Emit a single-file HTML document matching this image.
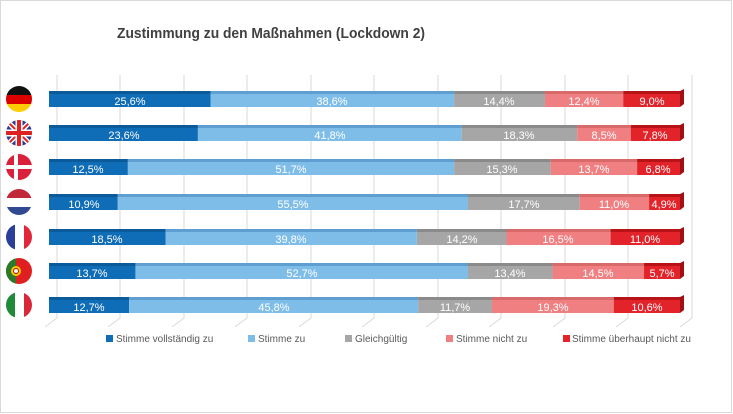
<!DOCTYPE html>
<html><head><meta charset="utf-8"><style>
body{margin:0;background:#fff}
svg{display:block;font-family:"Liberation Sans",sans-serif}
.l{fill:#fff;font-size:11px;text-anchor:middle}
.g{fill:#595959;font-size:10px}
</style></head><body>
<svg width="733" height="414" viewBox="0 0 733 414">
<rect x="0.5" y="0.5" width="731" height="412" fill="#fff" stroke="#d9d9d9"/>
<text x="117" y="38" font-size="15" font-weight="bold" fill="#404040" textLength="308" lengthAdjust="spacingAndGlyphs">Zustimmung zu den Maßnahmen (Lockdown 2)</text>
<g stroke="#d9d9d9" stroke-width="1" fill="none">
<path d="M57 75V318L45 327"/><path d="M120 75V318L108 327"/><path d="M184 75V318L172 327"/><path d="M247 75V318L235 327"/><path d="M311 75V318L299 327"/><path d="M374 75V318L362 327"/><path d="M438 75V318L426 327"/><path d="M501 75V318L489 327"/><path d="M565 75V318L553 327"/><path d="M628 75V318L616 327"/><path d="M692 75V318L680 327"/>
</g>
<defs>
<clipPath id="c"><circle r="13"/></clipPath>
</defs>
<svg x="49" y="91" width="631" height="16" viewBox="0 0 100 16" preserveAspectRatio="none">
<rect x="0" y="0" width="25.6" height="3" fill="#0b5a99"/><rect x="0" y="3" width="25.6" height="13" fill="#0f6cb6"/>
<rect x="25.6" y="0" width="38.6" height="3" fill="#5f9ed0"/><rect x="25.6" y="3" width="38.6" height="13" fill="#7fbde9"/>
<rect x="64.2" y="0" width="14.4" height="3" fill="#8a8a8a"/><rect x="64.2" y="3" width="14.4" height="13" fill="#a6a6a6"/>
<rect x="78.6" y="0" width="12.4" height="3" fill="#d86a6a"/><rect x="78.6" y="3" width="12.4" height="13" fill="#f07f82"/>
<rect x="91" y="0" width="9" height="3" fill="#b81418"/><rect x="91" y="3" width="9" height="13" fill="#e3232a"/>
</svg>
<svg x="49" y="125" width="631" height="16" viewBox="0 0 100 16" preserveAspectRatio="none">
<rect x="0" y="0" width="23.6" height="3" fill="#0b5a99"/><rect x="0" y="3" width="23.6" height="13" fill="#0f6cb6"/>
<rect x="23.6" y="0" width="41.8" height="3" fill="#5f9ed0"/><rect x="23.6" y="3" width="41.8" height="13" fill="#7fbde9"/>
<rect x="65.4" y="0" width="18.3" height="3" fill="#8a8a8a"/><rect x="65.4" y="3" width="18.3" height="13" fill="#a6a6a6"/>
<rect x="83.7" y="0" width="8.5" height="3" fill="#d86a6a"/><rect x="83.7" y="3" width="8.5" height="13" fill="#f07f82"/>
<rect x="92.2" y="0" width="7.8" height="3" fill="#b81418"/><rect x="92.2" y="3" width="7.8" height="13" fill="#e3232a"/>
</svg>
<svg x="49" y="159" width="631" height="16" viewBox="0 0 100 16" preserveAspectRatio="none">
<rect x="0" y="0" width="12.5" height="3" fill="#0b5a99"/><rect x="0" y="3" width="12.5" height="13" fill="#0f6cb6"/>
<rect x="12.5" y="0" width="51.7" height="3" fill="#5f9ed0"/><rect x="12.5" y="3" width="51.7" height="13" fill="#7fbde9"/>
<rect x="64.2" y="0" width="15.3" height="3" fill="#8a8a8a"/><rect x="64.2" y="3" width="15.3" height="13" fill="#a6a6a6"/>
<rect x="79.5" y="0" width="13.7" height="3" fill="#d86a6a"/><rect x="79.5" y="3" width="13.7" height="13" fill="#f07f82"/>
<rect x="93.2" y="0" width="6.8" height="3" fill="#b81418"/><rect x="93.2" y="3" width="6.8" height="13" fill="#e3232a"/>
</svg>
<svg x="49" y="194" width="631" height="16" viewBox="0 0 100 16" preserveAspectRatio="none">
<rect x="0" y="0" width="10.9" height="3" fill="#0b5a99"/><rect x="0" y="3" width="10.9" height="13" fill="#0f6cb6"/>
<rect x="10.9" y="0" width="55.5" height="3" fill="#5f9ed0"/><rect x="10.9" y="3" width="55.5" height="13" fill="#7fbde9"/>
<rect x="66.4" y="0" width="17.7" height="3" fill="#8a8a8a"/><rect x="66.4" y="3" width="17.7" height="13" fill="#a6a6a6"/>
<rect x="84.1" y="0" width="11" height="3" fill="#d86a6a"/><rect x="84.1" y="3" width="11" height="13" fill="#f07f82"/>
<rect x="95.1" y="0" width="4.9" height="3" fill="#b81418"/><rect x="95.1" y="3" width="4.9" height="13" fill="#e3232a"/>
</svg>
<svg x="49" y="229" width="631" height="16" viewBox="0 0 100 16" preserveAspectRatio="none">
<rect x="0" y="0" width="18.5" height="3" fill="#0b5a99"/><rect x="0" y="3" width="18.5" height="13" fill="#0f6cb6"/>
<rect x="18.5" y="0" width="39.8" height="3" fill="#5f9ed0"/><rect x="18.5" y="3" width="39.8" height="13" fill="#7fbde9"/>
<rect x="58.3" y="0" width="14.2" height="3" fill="#8a8a8a"/><rect x="58.3" y="3" width="14.2" height="13" fill="#a6a6a6"/>
<rect x="72.5" y="0" width="16.5" height="3" fill="#d86a6a"/><rect x="72.5" y="3" width="16.5" height="13" fill="#f07f82"/>
<rect x="89" y="0" width="11" height="3" fill="#b81418"/><rect x="89" y="3" width="11" height="13" fill="#e3232a"/>
</svg>
<svg x="49" y="263" width="631" height="16" viewBox="0 0 100 16" preserveAspectRatio="none">
<rect x="0" y="0" width="13.7" height="3" fill="#0b5a99"/><rect x="0" y="3" width="13.7" height="13" fill="#0f6cb6"/>
<rect x="13.7" y="0" width="52.7" height="3" fill="#5f9ed0"/><rect x="13.7" y="3" width="52.7" height="13" fill="#7fbde9"/>
<rect x="66.4" y="0" width="13.4" height="3" fill="#8a8a8a"/><rect x="66.4" y="3" width="13.4" height="13" fill="#a6a6a6"/>
<rect x="79.8" y="0" width="14.5" height="3" fill="#d86a6a"/><rect x="79.8" y="3" width="14.5" height="13" fill="#f07f82"/>
<rect x="94.3" y="0" width="5.7" height="3" fill="#b81418"/><rect x="94.3" y="3" width="5.7" height="13" fill="#e3232a"/>
</svg>
<svg x="49" y="297" width="631" height="16" viewBox="0 0 100 16" preserveAspectRatio="none">
<rect x="0" y="0" width="12.7" height="3" fill="#0b5a99"/><rect x="0" y="3" width="12.7" height="13" fill="#0f6cb6"/>
<rect x="12.7" y="0" width="45.8" height="3" fill="#5f9ed0"/><rect x="12.7" y="3" width="45.8" height="13" fill="#7fbde9"/>
<rect x="58.5" y="0" width="11.7" height="3" fill="#8a8a8a"/><rect x="58.5" y="3" width="11.7" height="13" fill="#a6a6a6"/>
<rect x="70.2" y="0" width="19.3" height="3" fill="#d86a6a"/><rect x="70.2" y="3" width="19.3" height="13" fill="#f07f82"/>
<rect x="89.5" y="0" width="10.5" height="3" fill="#b81418"/><rect x="89.5" y="3" width="10.5" height="13" fill="#e3232a"/>
</svg>
<g fill="#a01015">
<path d="M680 91l4-2v15l-4 3z"/><path d="M680 125l4-2v15l-4 3z"/><path d="M680 159l4-2v15l-4 3z"/><path d="M680 194l4-2v15l-4 3z"/><path d="M680 229l4-2v15l-4 3z"/><path d="M680 263l4-2v15l-4 3z"/><path d="M680 297l4-2v15l-4 3z"/>
</g>
<g class="l">
<text x="130" y="105">25,6%</text><text x="332" y="105">38,6%</text><text x="499" y="105">14,4%</text><text x="584" y="105">12,4%</text><text x="652" y="105">9,0%</text>
<text x="124" y="139">23,6%</text><text x="330" y="139">41,8%</text><text x="519" y="139">18,3%</text><text x="604" y="139">8,5%</text><text x="655" y="139">7,8%</text>
<text x="88" y="173">12,5%</text><text x="291" y="173">51,7%</text><text x="502" y="173">15,3%</text><text x="594" y="173">13,7%</text><text x="658" y="173">6,8%</text>
<text x="84" y="208">10,9%</text><text x="293" y="208">55,5%</text><text x="524" y="208">17,7%</text><text x="614" y="208">11,0%</text><text x="664" y="208">4,9%</text>
<text x="107" y="243">18,5%</text><text x="291" y="243">39,8%</text><text x="462" y="243">14,2%</text><text x="558" y="243">16,5%</text><text x="645" y="243">11,0%</text>
<text x="92" y="277">13,7%</text><text x="302" y="277">52,7%</text><text x="510" y="277">13,4%</text><text x="598" y="277">14,5%</text><text x="662" y="277">5,7%</text>
<text x="89" y="311">12,7%</text><text x="274" y="311">45,8%</text><text x="455" y="311">11,7%</text><text x="553" y="311">19,3%</text><text x="647" y="311">10,6%</text>
</g>
<g transform="translate(19,99)" clip-path="url(#c)"><rect x="-13" y="-13" width="26" height="9" fill="#111"/><rect x="-13" y="-4" width="26" height="9" fill="#d00"/><rect x="-13" y="5" width="26" height="9" fill="#fc0"/></g>
<g transform="translate(19,133)" clip-path="url(#c)"><rect x="-13" y="-13" width="26" height="26" fill="#2b3a8c"/><path d="M-13-13L13 13M13-13L-13 13" stroke="#fff" stroke-width="5"/><path d="M-13-13L13 13M13-13L-13 13" stroke="#d22" stroke-width="2"/><path d="M0-13V13M-13 0H13" stroke="#fff" stroke-width="7"/><path d="M0-13V13M-13 0H13" stroke="#d22" stroke-width="4"/></g>
<g transform="translate(19,167)" clip-path="url(#c)"><rect x="-13" y="-13" width="26" height="26" fill="#d9213b"/><path d="M-3-13V13M-13 0H13" stroke="#fff" stroke-width="4"/></g>
<g transform="translate(19,202)" clip-path="url(#c)"><rect x="-13" y="-13" width="26" height="9" fill="#c1283a"/><rect x="-13" y="-4" width="26" height="9" fill="#fff"/><rect x="-13" y="5" width="26" height="9" fill="#2f4a93"/></g>
<g transform="translate(19,237)" clip-path="url(#c)"><rect x="-13" y="-13" width="9" height="26" fill="#2a3f9a"/><rect x="-4" y="-13" width="9" height="26" fill="#fff"/><rect x="5" y="-13" width="9" height="26" fill="#e0283a"/></g>
<g transform="translate(19,271)" clip-path="url(#c)"><rect x="-13" y="-13" width="26" height="26" fill="#e02020"/><rect x="-13" y="-13" width="10" height="26" fill="#2a7a2a"/><circle cx="-3" cy="0" r="5" fill="#f5d000"/><circle cx="-3" cy="0" r="2.5" fill="#fff" stroke="#c00"/></g>
<g transform="translate(19,305)" clip-path="url(#c)"><rect x="-13" y="-13" width="9" height="26" fill="#1f8a3a"/><rect x="-4" y="-13" width="9" height="26" fill="#fff"/><rect x="5" y="-13" width="9" height="26" fill="#d8283a"/></g>
<rect x="106" y="335" width="7" height="7" fill="#0f6cb6"/><text class="g" x="116" y="342">Stimme vollständig zu</text>
<rect x="248" y="335" width="7" height="7" fill="#7fbde9"/><text class="g" x="258" y="342">Stimme zu</text>
<rect x="345" y="335" width="7" height="7" fill="#a6a6a6"/><text class="g" x="355" y="342">Gleichgültig</text>
<rect x="446" y="335" width="7" height="7" fill="#f07f82"/><text class="g" x="456" y="342">Stimme nicht zu</text>
<rect x="563" y="335" width="7" height="7" fill="#e3232a"/><text class="g" x="572" y="342">Stimme überhaupt nicht zu</text>
</svg>
</body></html>
